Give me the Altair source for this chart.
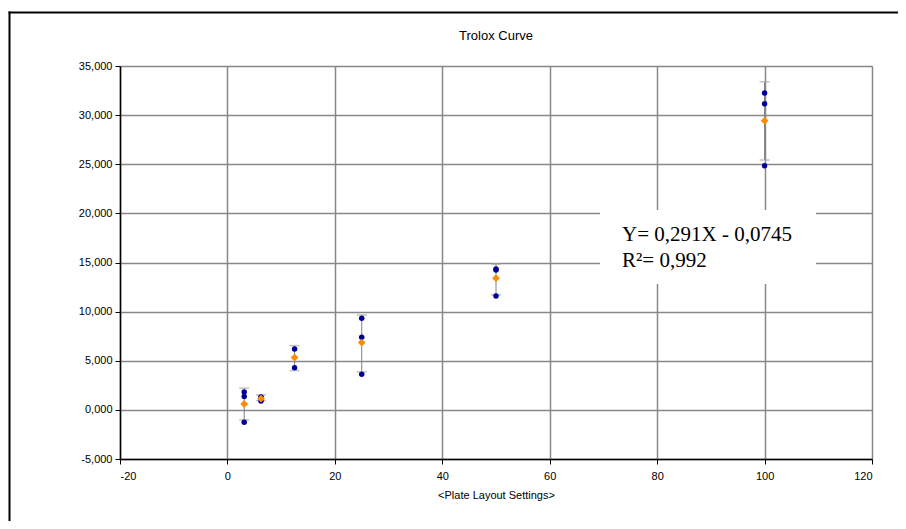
import altair as alt
import pandas as pd

# ---- data ----
conc = [3.125, 6.25, 12.5, 25, 50, 100]
replicates = [
    [1830, 1350, -1250],
    [1300, 1250, 900],
    [6200, 4300],
    [9330, 7400, 3630],
    [14350, 14240, 11600],
    [32250, 31160, 24850],
]
means = [610, 1150, 5320, 6850, 13400, 29430]
err_low = [-1020, 950, 4000, 3870, 11700, 25430]
err_high = [2210, 1530, 6540, 9660, 14850, 33400]

x_ticks = [-20, 0, 20, 40, 60, 80, 100, 120]
y_ticks = [-5000, 0, 5000, 10000, 15000, 20000, 25000, 30000, 35000]

title_text = "Trolox Curve"
x_title = "<Plate Layout Settings>"
eq_line1 = "Y= 0,291X - 0,0745"
eq_line2 = "R²= 0,992"

rep_df = pd.DataFrame(
    [{"x": c, "y": v} for c, vals in zip(conc, replicates) for v in vals]
)
mean_df = pd.DataFrame({"x": conc, "y": means, "lo": err_low, "hi": err_high})
one = pd.DataFrame({"a": [0]})

FONT = "Liberation Sans"

xscale = alt.Scale(domain=[-20, 120], nice=False, zero=False)
yscale = alt.Scale(domain=[-5000, 35000], nice=False, zero=False)

xaxis = alt.Axis(
    values=x_ticks, title=x_title, grid=True,
    labelExpr="datum.value < 0 ? '-' + format(-datum.value, 'd') : format(datum.value, 'd')",
    labelPadding=6, titlePadding=8,
)
yaxis = alt.Axis(
    values=y_ticks, title=None, grid=True,
    labelExpr="(datum.value < 0 ? '-' : '') + replace(format(abs(datum.value)/1000, '.3f'), '.', ',')",
    labelPadding=3,
)

base = alt.Chart(mean_df)

err_line = base.mark_rule(color="#808080", strokeWidth=1).encode(
    x=alt.X("x:Q", scale=xscale, axis=xaxis),
    y=alt.Y("lo:Q", scale=yscale, axis=yaxis),
    y2="hi:Q",
)
cap_lo = base.mark_tick(color="#A6A6A6", thickness=1.5, size=10, orient="horizontal").encode(
    x=alt.X("x:Q", scale=xscale), y=alt.Y("lo:Q", scale=yscale)
)
cap_hi = base.mark_tick(color="#A6A6A6", thickness=1.5, size=10, orient="horizontal").encode(
    x=alt.X("x:Q", scale=xscale), y=alt.Y("hi:Q", scale=yscale)
)

blue = alt.Chart(rep_df).mark_point(
    shape="circle", filled=True, color="#000099", size=30, opacity=1
).encode(x=alt.X("x:Q", scale=xscale), y=alt.Y("y:Q", scale=yscale))

orange = base.mark_point(
    shape="diamond", filled=True, color="#FF8C00", size=60, opacity=1
).encode(x=alt.X("x:Q", scale=xscale), y=alt.Y("y:Q", scale=yscale))

box = alt.Chart(one).mark_rect(fill="white").encode(
    x=alt.value(480), x2=alt.value(696), y=alt.value(144), y2=alt.value(218)
)
txt1 = alt.Chart(one).mark_text(
    text=eq_line1, font="Liberation Serif", fontSize=21, color="black",
    align="left", baseline="alphabetic",
).encode(x=alt.value(502), y=alt.value(175))
txt2 = alt.Chart(one).mark_text(
    text=eq_line2, font="Liberation Serif", fontSize=21, color="black",
    align="left", baseline="alphabetic",
).encode(x=alt.value(502), y=alt.value(201))

title_mark = alt.Chart(one).mark_text(
    text=title_text, font=FONT, fontSize=13, color="black",
    align="center", baseline="middle",
).encode(x=alt.value(376), y=alt.value(-30))

frame_left = alt.Chart(one).mark_rule(color="black", strokeWidth=2).encode(
    x=alt.value(-110.5), y=alt.value(-54.5), y2=alt.value(460)
)
frame_top = alt.Chart(one).mark_rule(color="black", strokeWidth=2).encode(
    x=alt.value(-111.5), x2=alt.value(800), y=alt.value(-53.5)
)

chart = alt.layer(
    err_line, cap_lo, cap_hi, blue, orange, box, txt1, txt2, title_mark,
    frame_left, frame_top
).properties(
    width=752,
    height=393,
    autosize=alt.AutoSizeParams(type="none"),
    padding={"left": 112, "top": 58, "right": 26, "bottom": 62},
).configure_view(stroke=None).configure_axis(
    labelFont=FONT, labelFontSize=11, labelColor="black",
    titleFont=FONT, titleFontSize=11, titleFontWeight="normal", titleColor="black",
    gridColor="#888888", gridWidth=1.5,
    domainColor="black", domainWidth=1.5,
    tickColor="black", tickSize=5, tickWidth=1,
)

chart.save("out.html", embed_options={"renderer": "svg", "actions": False})
